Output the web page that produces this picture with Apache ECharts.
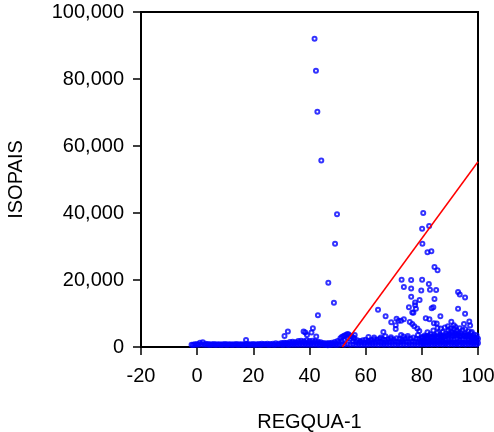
<!DOCTYPE html>
<html>
<head>
<meta charset="utf-8">
<script src="https://cdn.jsdelivr.net/npm/echarts@6/dist/echarts.min.js"></script>
<style>
html,body{margin:0;padding:0;background:#fff;}
#chart{width:494px;height:432px;}
</style>
</head>
<body>
<div id="chart"></div>
<script>
// Axis ticks
const xTicks = [-20, 0, 20, 40, 60, 80, 100];
const yTicks = [0, 20000, 40000, 60000, 80000, 100000];

// Dense base band (row 1)
const band1X = [-2,-1,0,1,2,3,4,5,6,7,8,9,10,11,12,13,14,15,16,17,18,19,20,21,22,23,24,25,26,27,28,29,30,31,32,33,34,35,36,37,38,39,40,41,42,43,44,45,46,47,48,49,50,51,52,53,54,55,56,57,58,59,60,61,62,63,64,65,66,67,68,69,70,71,72,73,74,75,76,77,78,79,80,81,82,83,84,85,86,87,88,89,90,91,92,93,94,95,96,97,98,99,100];
const band1Y = [700,800,900,1300,1400,1000,900,850,900,850,800,850,900,850,800,850,900,850,800,850,900,850,900,850,900,1000,900,1000,900,1000,1100,1000,1200,1300,1200,1500,1600,1400,1800,1900,1700,2000,1800,1900,1700,1600,1400,1200,1100,1200,1300,1500,1800,2600,3200,3600,3700,3200,2600,2000,1800,2000,2200,1900,2100,2300,2200,2500,2300,2100,2300,2500,2200,2600,2400,2200,2400,2700,2500,2800,2500,2300,2600,2900,2700,3000,2800,3100,2900,3300,3000,3600,3900,4200,4000,3700,4100,3500,3800,3300,3000,2800,2500];

// Dense base band (row 2, lowest)
const band2X = [-1.5,-0.5,0.5,1.5,2.5,3.5,4.5,5.5,6.5,7.5,8.5,9.5,10.5,11.5,12.5,13.5,14.5,15.5,16.5,17.5,18.5,19.5,20.5,21.5,22.5,23.5,24.5,25.5,26.5,27.5,28.5,29.5,30.5,31.5,32.5,33.5,34.5,35.5,36.5,37.5,38.5,39.5,40.5,41.5,42.5,43.5,44.5,45.5,46.5,47.5,48.5,49.5,50.5,51.5,52.5,53.5,54.5,55.5,56.5,57.5,58.5,59.5,60.5,61.5,62.5,63.5,64.5,65.5,66.5,67.5,68.5,69.5,70.5,71.5,72.5,73.5,74.5,75.5,76.5,77.5,78.5,79.5,80.5,81.5,82.5,83.5,84.5,85.5,86.5,87.5,88.5,89.5,90.5,91.5,92.5,93.5,94.5,95.5,96.5,97.5,98.5,99.5];
const band2Y = [600,650,700,750,700,650,600,650,600,650,600,650,600,650,600,650,600,650,600,650,600,650,600,650,600,650,650,600,650,600,650,650,600,650,600,700,650,700,650,700,650,700,650,700,650,600,650,600,550,600,650,600,700,800,700,800,700,750,700,650,700,650,700,750,700,750,700,750,700,750,700,750,700,750,700,750,700,750,700,750,700,750,800,750,800,750,800,750,800,750,800,750,800,750,800,750,800,750,800,750,800,750];

// Dense base band (row 3, middle)
const band3X = [30.5,31.5,32.5,33.5,34.5,35.5,36.5,37.5,38.5,39.5,40.5,41.5,42.5,43.5,44.5,45.5,46.5,47.5,48.5,49.5,50.5,51.5,52.5,53.5,54.5,55.5,56.5,57.5,58.5,59.5,60.5,61.5,62.5,63.5,64.5,65.5,66.5,67.5,68.5,69.5,70.5,71.5,72.5,73.5,74.5,75.5,76.5,77.5,78.5,79.5,80.5,81.5,82.5,83.5,84.5,85.5,86.5,87.5,88.5,89.5,90.5,91.5,92.5,93.5,94.5,95.5,96.5,97.5,98.5,99.5];
const band3Y = [1000,1100,1000,1200,1100,1300,1200,1300,1200,1300,1200,1300,1100,1200,1000,900,1000,900,1000,1100,1300,1700,2200,2600,2400,1800,1500,1300,1400,1300,1400,1500,1300,1400,1500,1400,1300,1500,1400,1500,1600,1400,1500,1600,1500,1400,1600,1500,1400,1600,1700,1600,1800,1700,1900,1800,2000,1900,2100,2000,2300,2200,2400,2200,2300,2100,2200,2000,1900,1700];

// Dense mass at right (rows 4 and 5)
const band4X = [80,81,82,83,84,85,86,87,88,89,90,91,92,93,94,95,96,97,98,99,100];
const band4Y = [1300,1200,1400,1300,1500,1300,1400,1500,1300,1400,1500,1400,1300,1500,1400,1300,1500,1400,1300,1400,1200];
const band5X = [80.5,81.5,82.5,83.5,84.5,85.5,86.5,87.5,88.5,89.5,90.5,91.5,92.5,93.5,94.5,95.5,96.5,97.5,98.5,99.5];
const band5Y = [2900,3100,3300,3000,3200,3000,3400,3100,3300,3500,3200,3600,3400,3300,3500,3200,3400,3000,2900,2700];

// Extra dense points (bump near 53 and right-hand mass)
const extraX = [52.5,53.5,54.5,51.5,55.5,84.5,85.5,86.5,87.5,88.5,89.5,90.5,91.5,92.5,93.5,94.5,95.5,96.5,97.5,98.5,99.5,88.2,89.3,90.2,92,93,94,96,98,61,63,67,69,75,81,83,82,80,87,91];
const extraY = [3400,3900,3300,3000,2800,3600,4200,3800,4500,4000,5000,4600,5400,4900,5600,5000,5300,4700,4200,3700,3500,5800,6200,5500,6000,4200,3200,3300,2600,3000,2800,3200,2900,3300,3400,3800,4400,3000,3000,3500];

// Scattered points above the band
const outX = [41.8,42.3,42.8,44.2,49.8,49.1,46.7,48.7,43.0,41.2,37.9,38.5,40.7,39.1,42.4,31.1,32.3,17.4,56.1,
  80.5,80.1,82.6,80.2,82.0,83.4,84.5,85.6,72.8,76.2,80.1,82.5,73.6,76.2,79.8,82.9,85.1,76.2,79.2,77.6,84.5,77.6,75.4,77.9,83.5,76.6,77.0,
  64.4,67.1,69.1,71.0,71.7,72.6,73.6,70.7,70.7,75.7,76.6,77.3,78.4,79.1,78.6,66.3,65.4,72.6,73.4,
  84.1,92.9,93.5,95.4,92.9,95.4,86.6,81.4,82.7,84.3,85.3,85.6,84.1,86.7,90.5,91.4,95.0,96.9,97.2,97.8];
const outY = [92000,82500,70200,55700,39600,30800,19200,13200,9500,5600,4600,4300,4300,3600,3100,3300,4600,2100,3600,
  40000,35300,36100,30800,28300,28600,23900,22900,20100,20000,20100,18800,17900,17500,16900,17100,17000,15000,14000,13300,14300,12500,11900,11400,11600,10300,10200,
  11100,9200,7400,8400,7850,7850,8300,6500,5400,7500,6900,6200,5500,4800,3600,4500,2800,3600,3100,
  11850,16400,15700,14800,11400,9940,9200,8570,8270,7100,7000,5700,4900,5500,7550,6500,6900,7600,6400,4500];

// Fitted line
const fitX = [51.7, 100];
const fitY = [0, 55300];

function pairs(xs, ys){ return xs.map((x, i) => [x, ys[i]]); }
const scatterData = [].concat(
  pairs(band2X, band2Y), pairs(band1X, band1Y), pairs(band3X, band3Y),
  pairs(band4X, band4Y), pairs(band5X, band5Y),
  pairs(extraX, extraY), pairs(outX, outY));

const font = 'Liberation Sans, Arial, sans-serif';
const chart = echarts.init(document.getElementById('chart'));
chart.setOption({
  animation: false,
  backgroundColor: '#ffffff',
  grid: {left: 141, right: 16, top: 12, bottom: 85, containLabel: false, outerBoundsMode: 'none',
    show: true, borderColor: '#000', borderWidth: 2, backgroundColor: 'transparent'},
  xAxis: {
    type: 'value', min: xTicks[0], max: xTicks[xTicks.length-1], interval: 20,
    name: 'REGQUA-1', nameLocation: 'middle', nameGap: 65,
    nameTextStyle: {fontSize: 20, color: '#000', fontFamily: font},
    axisLine: {onZero: false, lineStyle: {color: '#000', width: 2}},
    axisTick: {show: true, inside: false, length: 8, lineStyle: {color: '#000', width: 1.5}},
    axisLabel: {fontSize: 20, color: '#000', fontFamily: font, margin: 19},
    splitLine: {show: false}
  },
  yAxis: {
    type: 'value', min: yTicks[0], max: yTicks[yTicks.length-1], interval: 20000,
    name: 'ISOPAIS', nameLocation: 'middle', nameGap: 115, nameRotate: 90,
    nameTextStyle: {fontSize: 20, color: '#000', fontFamily: font},
    axisLine: {onZero: false, lineStyle: {color: '#000', width: 2}},
    axisTick: {show: true, inside: false, length: 8, lineStyle: {color: '#000', width: 1.5}},
    axisLabel: {fontSize: 20, color: '#000', fontFamily: font, margin: 17},
    splitLine: {show: false}
  },
  series: [
    {
      type: 'scatter', data: scatterData, symbol: 'circle', symbolSize: 4,
      itemStyle: {color: 'rgba(0,0,0,0)', borderColor: '#0000ff', borderWidth: 2},
      silent: true, z: 2
    },
    {
      type: 'line', data: pairs(fitX, fitY), symbol: 'none',
      lineStyle: {color: '#ff0000', width: 1.5}, silent: true, z: 3
    }
  ]
});
</script>
</body>
</html>
